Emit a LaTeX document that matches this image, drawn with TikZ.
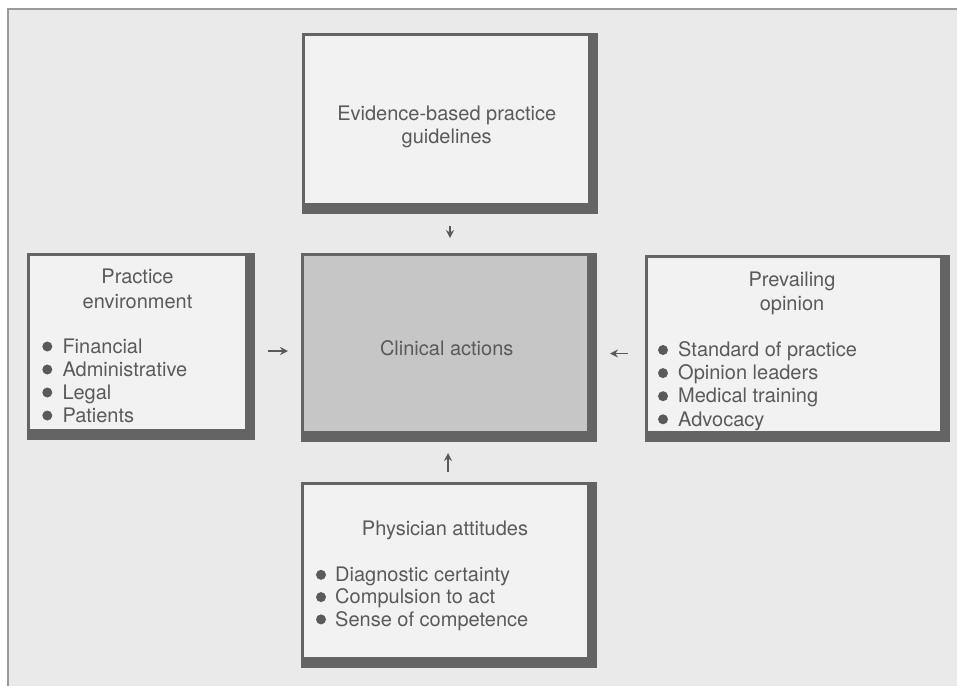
\documentclass[tikz,border=0pt]{standalone}
\usepackage{fontspec}
\setmainfont{TeX Gyre Heros}
\usetikzlibrary{arrows.meta}
\pgfdeclarelayer{back}
\pgfdeclarelayer{bg}
\pgfsetlayers{back,bg,main}
\definecolor{pagebg}{HTML}{EAEAEA}
\definecolor{framec}{HTML}{9A9A9A}
\definecolor{boxfill}{HTML}{F2F2F2}
\definecolor{corefill}{HTML}{C6C6C6}
\definecolor{edgec}{HTML}{646464}
\definecolor{inkc}{HTML}{5A5A5A}
\tikzset{
  panel/.style={fill=boxfill, draw=none, inner sep=0pt, outer sep=0pt},
  lbl/.style={inner sep=0pt, anchor=base, text=inkc, font=\fontsize{20}{23}\selectfont},
  itm/.style={lbl, anchor=base west},
  dot/.style={circle, fill=inkc, inner sep=0pt, minimum size=10pt},
  arr/.style={draw=inkc, line width=1.6pt, -{Stealth[length=8pt,width=8pt]}},
  frameedge/.style={fill=edgec}
}
\begin{document}
\begin{tikzpicture}[x=1pt,y=-1pt]
\useasboundingbox (0,0) rectangle (957,686);
\begin{pgfonlayer}{back}
\fill[white] (0,0) rectangle (957,686);
\fill[pagebg] (8,9) rectangle (957,686);
\draw[framec, line width=1.5pt] (8,686) -- (8,9) -- (957,9);
\end{pgfonlayer}

% panels
\node[panel, minimum width=215pt, minimum height=173pt] (env) at (137.5,342.5) {};
\node[panel, minimum width=283pt, minimum height=167pt] (guide) at (446.5,119.5) {};
\node[panel, fill=corefill, minimum width=283pt, minimum height=175pt] (clin) at (445.5,343.5) {};
\node[panel, minimum width=292pt, minimum height=173pt] (op) at (794,344.5) {};
\node[panel, minimum width=283pt, minimum height=172pt] (att) at (445.5,571) {};

\begin{pgfonlayer}{bg}
\foreach \n in {env,guide,clin,op,att}{
  \fill[frameedge] ([shift={(-3pt,3pt)}]\n.north west) rectangle ([shift={(10pt,-11pt)}]\n.south east);
}
\end{pgfonlayer}

% titles
\node[lbl] (envA) at (137.5,283.3) {Practice};
\node[lbl] (envB) at (137.5,308) {environment};
\node[lbl] (guideA) at (446.7,120.7) {Evidence-based practice};
\node[lbl] (guideB) at (446.7,143.3) {guidelines};
\node[lbl] (clinA) at (446.7,355.7) {Clinical actions};
\node[lbl] (opA) at (792,286) {Prevailing};
\node[lbl] (opB) at (792,310) {opinion};
\node[lbl] (attA) at (445,535) {Physician attitudes};

% bullet lists
\foreach \t [count=\i] in {Financial,Administrative,Legal,Patients}{
  \node[dot] (envdot\i) at (47.3,{346.5+23*(\i-1)}) {};
  \node[itm] (envitem\i) at (62.3,{353.2+23*(\i-1)}) {\t};
}
\foreach \t [count=\i] in {Standard of practice,Opinion leaders,Medical training,Advocacy}{
  \node[dot] (opdot\i) at (663,{350+23.1*(\i-1)}) {};
  \node[itm] (opitem\i) at (678,{356.7+23.1*(\i-1)}) {\t};
}
\foreach \t [count=\i] in {Diagnostic certainty,Compulsion to act,Sense of competence}{
  \node[dot] (attdot\i) at (321,{574.8+22.3*(\i-1)}) {};
  \node[itm] (attitem\i) at (335,{581.5+22.3*(\i-1)}) {\t};
}

% arrows
\draw[arr, shorten <=23pt, shorten >=18pt] ([xshift=3.5pt]guide.south) -- ([xshift=3.5pt]guide.south |- clin.north);
\draw[arr, shorten <=23pt, shorten >=16pt] ([yshift=-8.5pt]env.east) -- ([yshift=-8.5pt]env.east -| clin.west);
\draw[arr, shorten <=20pt, shorten >=23pt] ([yshift=-9pt]op.west) -- ([yshift=-9pt]op.west -| clin.east);
\draw[arr, shorten <=13pt, shorten >=22pt] ([xshift=2.5pt]att.north) -- ([xshift=2.5pt]att.north |- clin.south);
\end{tikzpicture}
\end{document}
